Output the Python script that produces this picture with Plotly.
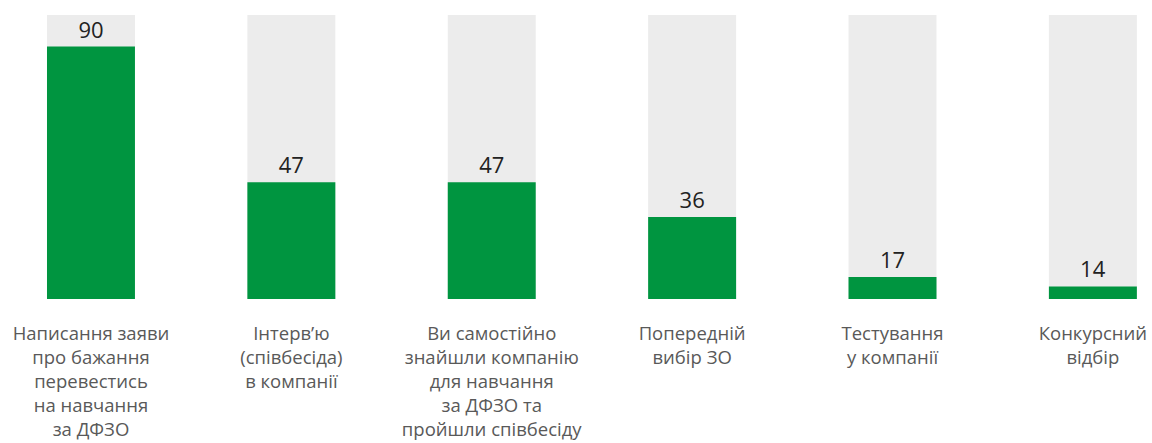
import plotly.graph_objects as go

categories = [
    "Написання заяви<br>про бажання<br>перевестись<br>на навчання<br>за ДФЗО",
    "Інтерв’ю<br>(співбесіда)<br>в компанії",
    "Ви самостійно<br>знайшли компанію<br>для навчання<br>за ДФЗО та<br>пройшли співбесіду",
    "Попередній<br>вибір ЗО",
    "Тестування<br>у компанії",
    "Конкурсний<br>відбір",
]
values = [90, 47, 47, 36, 17, 14]
full_scale = [100] * len(values)

GREEN = "#009540"
TRACK = "#ececec"
FONT = "Open Sans"

x_pos = list(range(len(categories)))

fig = go.Figure()

# light track behind every bar
fig.add_trace(go.Bar(
    x=x_pos, y=full_scale, width=0.439,
    marker=dict(color=TRACK, line=dict(width=0)),
    hoverinfo="skip", showlegend=False,
))

# values with labels on top
fig.add_trace(go.Bar(
    x=x_pos, y=values, width=0.439,
    marker=dict(color=GREEN, line=dict(width=0)),
    text=[str(v) for v in values],
    textposition="outside",
    textfont=dict(family=FONT, size=22, color="#222222"),
    cliponaxis=False,
    showlegend=False,
))

fig.update_layout(
    width=1152, height=443,
    margin=dict(l=0, r=0, t=15, b=144, autoexpand=False),
    barmode="overlay",
    plot_bgcolor="white", paper_bgcolor="white",
    font=dict(family=FONT),
    uniformtext=dict(mode=False),
)
fig.update_xaxes(
    range=[-0.454, 5.295],
    tickmode="array", tickvals=x_pos, ticktext=categories,
    tickfont=dict(family=FONT, size=18.5, color="#595959"),
    showgrid=False, zeroline=False, showline=False, ticks="",
    ticklabelstandoff=21, automargin=False,
)
fig.update_yaxes(range=[10, 100], visible=False, showgrid=False, zeroline=False)

fig.write_html("out.html")
